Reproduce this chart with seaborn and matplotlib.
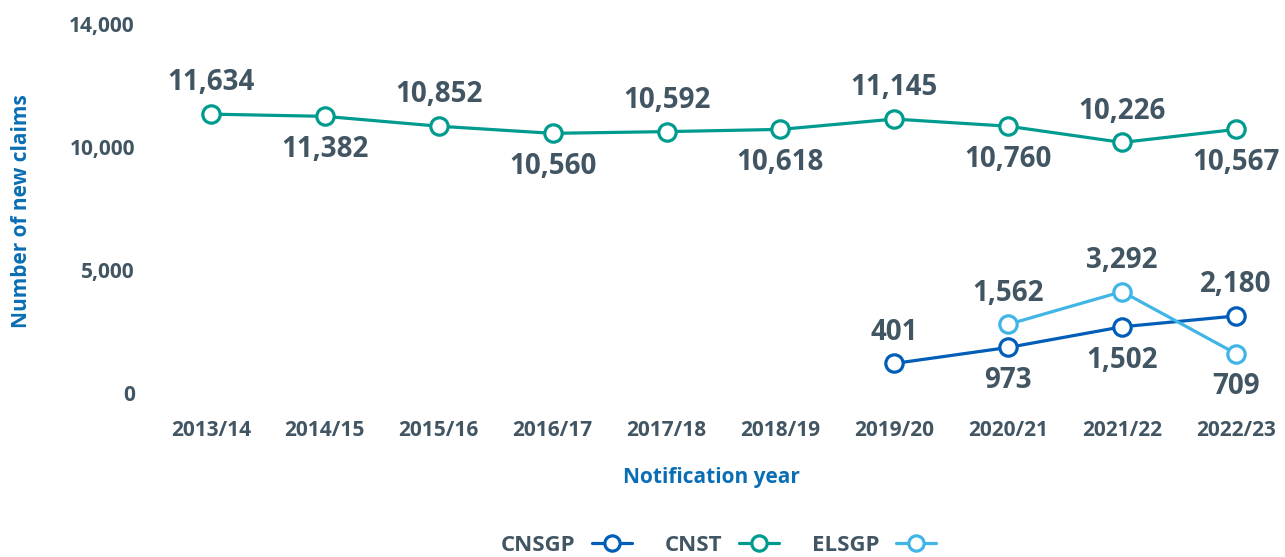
import numpy as np
import pandas as pd
import matplotlib
matplotlib.use("Agg")
import matplotlib.pyplot as plt
import seaborn as sns
from matplotlib.lines import Line2D

# ---------------- data ----------------
years = ["2013/14", "2014/15", "2015/16", "2016/17", "2017/18",
         "2018/19", "2019/20", "2020/21", "2021/22", "2022/23"]

# positions of the points as drawn in the reference
cnst_plotted = [11340, 11250, 10850, 10560, 10630, 10720, 11140, 10850, 10190, 10720]
cnsgp_plotted = [np.nan] * 6 + [1210, 1860, 2700, 3140]
elsgp_plotted = [np.nan] * 7 + [2800, 4130, 1610]

# value labels printed on the chart
cnst_labels = [11634, 11382, 10852, 10560, 10592, 10618, 11145, 10760, 10226, 10567]
cnsgp_labels = [None] * 6 + [401, 973, 1502, 2180]
elsgp_labels = [None] * 7 + [1562, 3292, 709]

# label placement (above / below the point)
cnst_place = ["a", "b", "a", "b", "a", "b", "a", "b", "a", "b"]
cnsgp_place = [None] * 6 + ["a", "b", "b", "a"]
elsgp_place = [None] * 7 + ["a", "a", "b"]

series_names = ["CNSGP", "CNST", "ELSGP"]
ytick_values = [0, 5000, 10000, 15000]
ytick_labels = ["0", "5,000", "10,000", "14,000"]

# ---------------- style ----------------
sns.set_theme(style="white")
plt.rcParams["font.family"] = ["Open Sans", "DejaVu Sans"]

C_CNSGP = "#005EB8"
C_CNST = "#009B8F"
C_ELSGP = "#41B6E6"
TXT = "#425563"
BLUE = "#0A6EB4"

fig = plt.figure(figsize=(12.85, 5.57), dpi=100)
ax = fig.add_axes([0.1287, 0.2675, 0.8686, 0.6893])

x = np.arange(len(years))
df = pd.DataFrame({
    "x": np.tile(x, 3),
    "value": cnsgp_plotted + cnst_plotted + elsgp_plotted,
    "series": np.repeat(series_names, len(years)),
})

colors = {"CNSGP": C_CNSGP, "CNST": C_CNST, "ELSGP": C_ELSGP}
handles = []
for name in series_names:
    sub = df[df["series"] == name].dropna()
    sns.lineplot(data=sub, x="x", y="value", ax=ax, color=colors[name],
                 linewidth=2.3, marker="o", markersize=12.5,
                 markerfacecolor="white", markeredgecolor=colors[name],
                 markeredgewidth=2.3, legend=False, zorder=3)
    handles.append(Line2D([0], [0], color=colors[name], linewidth=2.3,
                          marker="o", markersize=11,
                          markerfacecolor="white",
                          markeredgecolor=colors[name],
                          markeredgewidth=2.3))

def annotate(vals, labels, places):
    for xi, v, lab, p in zip(x, vals, labels, places):
        if lab is None:
            continue
        dy = 22.5 if p == "a" else -24
        ax.annotate(f"{lab:,}", (xi, v), xytext=(0, dy),
                    textcoords="offset points", ha="center", va="center",
                    fontsize=20, fontweight="bold", color=TXT)

annotate(cnst_plotted, cnst_labels, cnst_place)
annotate(cnsgp_plotted, cnsgp_labels, cnsgp_place)
annotate(elsgp_plotted, elsgp_labels, elsgp_place)

ax.set_xlim(-0.4, len(years) - 0.6)
ax.set_ylim(-600, 15000)
ax.set_xticks(x)
ax.set_xticklabels(years)
ax.set_yticks(ytick_values)
ax.set_yticklabels(ytick_labels)
ax.tick_params(axis="both", length=0, labelsize=15, labelcolor=TXT)
ax.tick_params(axis="x", pad=8.5)
ax.tick_params(axis="y", pad=22)
for lbl in ax.get_xticklabels() + ax.get_yticklabels():
    lbl.set_fontweight("bold")
for s in ax.spines.values():
    s.set_visible(False)
ax.grid(False)

ax.set_xlabel("Notification year", fontsize=15, fontweight="bold", color=BLUE)
ax.set_ylabel("Number of new claims", fontsize=15, fontweight="bold", color=BLUE)
ax.xaxis.label.set_va("center")
ax.yaxis.label.set_va("center")
ax.xaxis.set_label_coords(0.489, -0.182)
ax.yaxis.set_label_coords(-0.1285, 0.513)

leg = fig.legend(handles, series_names, loc="center",
                 bbox_to_anchor=(0.559, 0.0215), ncol=3, frameon=False,
                 markerfirst=False, handlelength=1.8, columnspacing=1.5,
                 handletextpad=0.72,
                 prop={"size": 16, "weight": "bold"})
for t in leg.get_texts():
    t.set_color(TXT)

fig.savefig("out.png", dpi=100)
